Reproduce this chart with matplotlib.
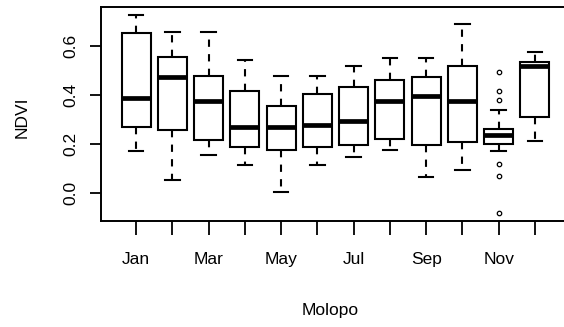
import matplotlib.pyplot as plt

plt.rcParams['font.family'] = ['Liberation Sans', 'DejaVu Sans']

# monthly NDVI box stats
months = ['Jan', 'Feb', 'Mar', 'Apr', 'May', 'Jun',
          'Jul', 'Aug', 'Sep', 'Oct', 'Nov', 'Dec']
med = [0.389, 0.471, 0.373, 0.267, 0.267, 0.275, 0.291, 0.373, 0.397, 0.373, 0.234, 0.516]
q1 = [0.267, 0.258, 0.216, 0.185, 0.176, 0.185, 0.193, 0.219, 0.193, 0.207, 0.200, 0.309]
q3 = [0.652, 0.554, 0.478, 0.416, 0.355, 0.404, 0.430, 0.461, 0.471, 0.520, 0.260, 0.536]
whislo = [0.169, 0.053, 0.152, 0.111, 0.004, 0.111, 0.144, 0.176, 0.062, 0.094, 0.171, 0.210]
whishi = [0.727, 0.658, 0.658, 0.543, 0.478, 0.478, 0.520, 0.552, 0.552, 0.690, 0.339, 0.577]
nov_out = [0.494, 0.415, 0.380, 0.118, 0.069, -0.084]
shown = ['Jan', 'Mar', 'May', 'Jul', 'Sep', 'Nov']

stats = []
for i, m in enumerate(months):
    stats.append({'label': m, 'med': med[i], 'q1': q1[i], 'q3': q3[i],
                  'whislo': whislo[i], 'whishi': whishi[i],
                  'fliers': nov_out if m == 'Nov' else []})

fig = plt.figure(figsize=(5.64, 3.27), dpi=100)
ax = fig.add_axes([100.5 / 564, 1 - 221 / 327, 470 / 564, 214 / 327])

ax.bxp(stats, positions=range(1, 13), widths=0.8, patch_artist=True,
       boxprops=dict(facecolor='white', edgecolor='black', linewidth=1.5),
       medianprops=dict(color='black', linewidth=3.4, solid_capstyle='butt'),
       whiskerprops=dict(color='black', linewidth=1.5, linestyle=(0, (3.5, 3.5))),
       capprops=dict(color='black', linewidth=1.5),
       capwidths=0.4,
       flierprops=dict(marker='o', markersize=3.2, markerfacecolor='none',
                       markeredgecolor='black', markeredgewidth=0.9))

lo = min(whislo + nov_out)
hi = max(whishi)
r = hi - lo
ax.set_ylim(lo - 0.04 * r, hi + 0.04 * r)
ax.set_xlim(0.02, 12.98)

ax.set_xticks(range(1, 13))
ax.set_xticklabels([m if m in shown else '' for m in months])
ax.set_yticks([0.0, 0.2, 0.4, 0.6])
ax.set_yticklabels(['0.0', '0.2', '0.4', '0.6'], rotation=90, va='center')

ax.tick_params(axis='x', length=10, width=1.3, pad=12, labelsize=12.5)
ax.tick_params(axis='y', length=7.7, width=1.3, pad=8, labelsize=12.5)
for s in ax.spines.values():
    s.set_linewidth(1.4)

fig.text(22.5 / 564, 1 - 117 / 327, 'NDVI', rotation=90, ha='center', va='center', fontsize=12.5)
fig.text(330 / 564, 1 - 310 / 327, 'Molopo', ha='center', va='center', fontsize=12.5)

fig.savefig('out.png', dpi=100)
